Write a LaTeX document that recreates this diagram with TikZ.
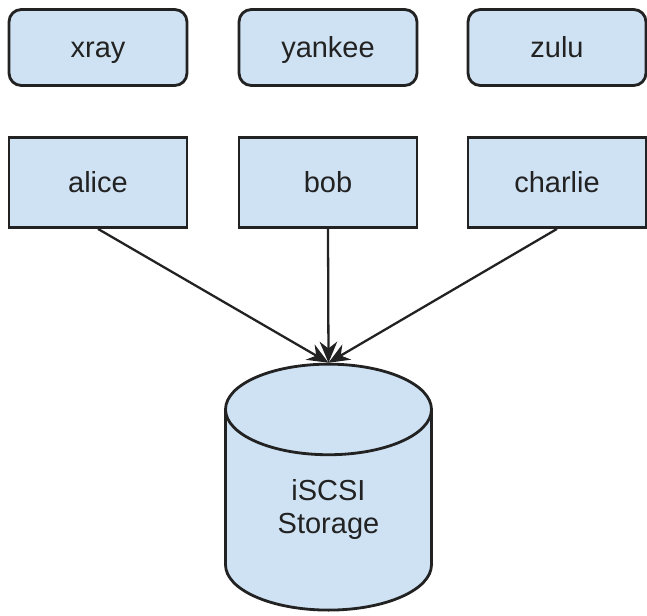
\documentclass[tikz,border=0pt]{standalone}
\usepackage{fontspec}
\setmainfont{Liberation Sans}
\usetikzlibrary{shapes, arrows.meta, positioning}

\definecolor{boxfill}{RGB}{207,226,243}
\definecolor{boxline}{RGB}{34,34,34}

\tikzset{
  host/.style={draw=boxline, fill=boxfill, line width=1.6pt, rounded corners=7pt,
    minimum width=3.56cm, minimum height=1.52cm, text height=12pt, text depth=0.5pt,
    font=\fontsize{16.5}{19}\selectfont, text=boxline},
  guest/.style={draw=boxline, fill=boxfill, line width=1.6pt,
    minimum width=3.56cm, minimum height=1.8cm, text height=12pt, text depth=0.5pt,
    font=\fontsize{16.5}{19}\selectfont, text=boxline},
  disk/.style={cylinder, shape border rotate=90, aspect=0.8, draw=boxline, fill=boxfill,
    line width=1.6pt, minimum width=4.12cm, minimum height=4.92cm, align=center,
    font=\fontsize{16.5}{19}\selectfont, text=boxline},
  link/.style={draw=boxline, line width=1.3pt, -{Stealth[length=12pt,width=10pt]}}
}

\begin{document}
\begin{tikzpicture}[x=0.02cm, y=-0.02cm]
\useasboundingbox (0,0) rectangle (647,616);

% upper row
\path (98,47.5) node[host] (xray) {xray};
\path (328,47.5) node[host] (yankee) {yankee};
\path (557,47.5) node[host] (zulu) {zulu};

% lower row
\path (98,182.5) node[guest] (alice) {alice};
\path (328,182.5) node[guest] (bob) {bob};
\path (557,182.5) node[guest] (charlie) {charlie};

\path (328.5,518) node[disk] (storage) {iSCSI\\Storage\\[-6pt]};

\draw[link] (alice.south) -- (storage.top);
\draw[link] (bob.south) -- (storage.top);
\draw[link] (charlie.south) -- (storage.top);
\end{tikzpicture}
\end{document}
